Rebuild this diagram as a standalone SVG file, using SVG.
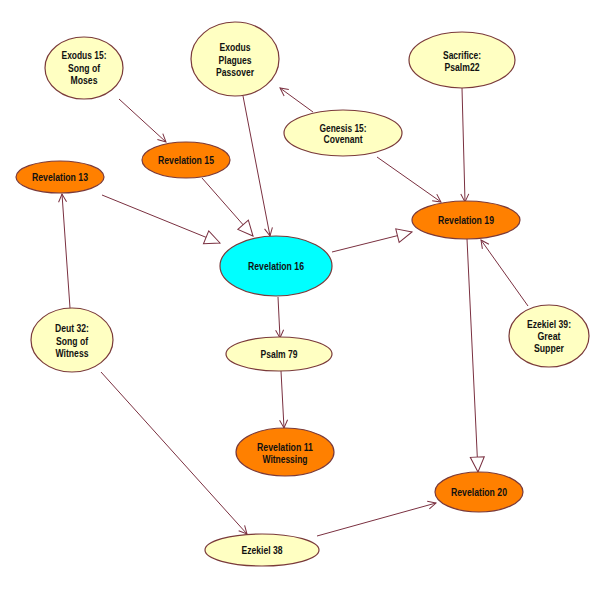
<svg xmlns="http://www.w3.org/2000/svg" width="606" height="589" viewBox="0 0 606 589">
<style>
.n ellipse{stroke:#7a3a3a;stroke-width:1.2}
.y ellipse{fill:#ffffc2}
.o ellipse{fill:#ff8000}
.c ellipse{fill:#00ffff}
text{font-family:"Liberation Sans",Arial,sans-serif;font-weight:bold;font-size:11px;fill:#111111;text-anchor:middle}
#edges line{stroke:#7a3040;stroke-width:1}
.v{marker-end:url(#vee)}
.t{marker-end:url(#tri)}
</style>
<defs>
<marker id="vee" markerUnits="userSpaceOnUse" viewBox="-10 -6 12 12" refX="0" refY="0" markerWidth="12" markerHeight="12" orient="auto">
<path d="M-8,-4 L0,0 L-8,4" fill="none" stroke="#7a3040" stroke-width="1"/>
</marker>
<marker id="tri" markerUnits="userSpaceOnUse" viewBox="-17 -9 19 18" refX="0" refY="0" markerWidth="19" markerHeight="18" orient="auto">
<path d="M0,0 L-15,-7 L-15,7 Z" fill="#ffffff" stroke="#7a3040" stroke-width="1"/>
</marker>
</defs>
<rect width="606" height="589" fill="#ffffff"/>
<g id="edges">
<line class="v" x1="119" y1="99" x2="166" y2="142"/>
<line class="v" x1="243" y1="96" x2="270" y2="236"/>
<line class="v" x1="313" y1="112" x2="280" y2="88"/>
<line class="v" x1="377" y1="157" x2="441" y2="202"/>
<line class="v" x1="462" y1="88" x2="465" y2="202"/>
<line class="t" x1="202" y1="178" x2="253" y2="236"/>
<line class="t" x1="102" y1="195" x2="220" y2="243"/>
<line class="t" x1="332" y1="252" x2="412" y2="232"/>
<line class="v" x1="278" y1="297" x2="280" y2="338"/>
<line class="v" x1="281" y1="371" x2="284" y2="428"/>
<line class="v" x1="70" y1="308" x2="62" y2="194"/>
<line class="v" x1="101" y1="372" x2="247" y2="534"/>
<line class="v" x1="317" y1="536" x2="436" y2="503"/>
<line class="t" x1="467" y1="239" x2="478" y2="472"/>
<line class="v" x1="528" y1="306" x2="481" y2="240"/>
</g>
<g id="exodus15" class="n y"><ellipse cx="84" cy="68" rx="39" ry="31"/><text x="84" y="59" textLength="45" lengthAdjust="spacingAndGlyphs">Exodus 15:</text><text x="84" y="72" textLength="32" lengthAdjust="spacingAndGlyphs">Song of</text><text x="84" y="84" textLength="27" lengthAdjust="spacingAndGlyphs">Moses</text></g>
<g id="exodusPlagues" class="n y"><ellipse cx="235" cy="59" rx="44" ry="37"/><text x="235" y="51" textLength="31" lengthAdjust="spacingAndGlyphs">Exodus</text><text x="235" y="64" textLength="33" lengthAdjust="spacingAndGlyphs">Plagues</text><text x="235" y="76" textLength="38" lengthAdjust="spacingAndGlyphs">Passover</text></g>
<g id="sacrifice" class="n y"><ellipse cx="462" cy="60" rx="53" ry="28"/><text x="462" y="59" textLength="38" lengthAdjust="spacingAndGlyphs">Sacrifice:</text><text x="462" y="71" textLength="35" lengthAdjust="spacingAndGlyphs">Psalm22</text></g>
<g id="genesis15" class="n y"><ellipse cx="343" cy="133" rx="59" ry="23"/><text x="343" y="132" textLength="47" lengthAdjust="spacingAndGlyphs">Genesis 15:</text><text x="343" y="143" textLength="39" lengthAdjust="spacingAndGlyphs">Covenant</text></g>
<g id="rev15" class="n o"><ellipse cx="186" cy="160" rx="44" ry="18"/><text x="186" y="164" textLength="56" lengthAdjust="spacingAndGlyphs">Revelation 15</text></g>
<g id="rev13" class="n o"><ellipse cx="60" cy="177" rx="44" ry="16"/><text x="60" y="181" textLength="56" lengthAdjust="spacingAndGlyphs">Revelation 13</text></g>
<g id="rev19" class="n o"><ellipse cx="466" cy="220" rx="54" ry="19"/><text x="466" y="224" textLength="56" lengthAdjust="spacingAndGlyphs">Revelation 19</text></g>
<g id="rev16" class="n c"><ellipse cx="276" cy="266" rx="56" ry="30"/><text x="276" y="270" textLength="56" lengthAdjust="spacingAndGlyphs">Revelation 16</text></g>
<g id="deut32" class="n y"><ellipse cx="72" cy="340" rx="41" ry="32"/><text x="72" y="332" textLength="34" lengthAdjust="spacingAndGlyphs">Deut 32:</text><text x="72" y="345" textLength="32" lengthAdjust="spacingAndGlyphs">Song of</text><text x="72" y="357" textLength="33" lengthAdjust="spacingAndGlyphs">Witness</text></g>
<g id="ezekiel39" class="n y"><ellipse cx="549" cy="336" rx="40" ry="31"/><text x="549" y="328" textLength="44" lengthAdjust="spacingAndGlyphs">Ezekiel 39:</text><text x="549" y="340" textLength="23" lengthAdjust="spacingAndGlyphs">Great</text><text x="549" y="352" textLength="30" lengthAdjust="spacingAndGlyphs">Supper</text></g>
<g id="psalm79" class="n y"><ellipse cx="279" cy="354" rx="53" ry="17"/><text x="279" y="358" textLength="37" lengthAdjust="spacingAndGlyphs">Psalm 79</text></g>
<g id="rev11" class="n o"><ellipse cx="285" cy="452" rx="49" ry="24"/><text x="285" y="451" textLength="56" lengthAdjust="spacingAndGlyphs">Revelation 11</text><text x="285" y="463" textLength="45" lengthAdjust="spacingAndGlyphs">Witnessing</text></g>
<g id="rev20" class="n o"><ellipse cx="479" cy="492" rx="44" ry="20"/><text x="479" y="496" textLength="56" lengthAdjust="spacingAndGlyphs">Revelation 20</text></g>
<g id="ezekiel38" class="n y"><ellipse cx="262" cy="550" rx="57" ry="16"/><text x="262" y="554" textLength="41" lengthAdjust="spacingAndGlyphs">Ezekiel 38</text></g>
</svg>
